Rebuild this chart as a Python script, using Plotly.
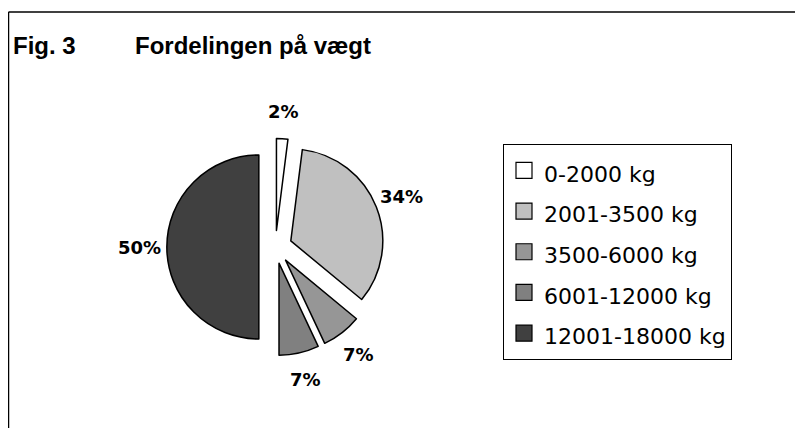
import math
import plotly.graph_objects as go

categories = ["0-2000 kg", "2001-3500 kg", "3500-6000 kg", "6001-12000 kg", "12001-18000 kg"]
shares = [2, 34, 7, 7, 50]
colors = ["#FFFFFF", "#C0C0C0", "#969696", "#808080", "#404040"]
fig_label = "Fig. 3"
title_text = "Fordelingen på vægt"

W, H = 803, 428
OFF = 8  # default body margin of the html page
TITLE_FONT = "Liberation Sans, Arial, sans-serif"
TEXT_FONT = "DejaVu Sans, Verdana, sans-serif"


def px(xp):
    return (xp - OFF) / W


def py(yp):
    return 1 - (yp - OFF) / H


# pie geometry (page pixels)
CX, CY, R, PULL = 275.4, 247.0, 92.0, 0.18
half = R * (1 + PULL)
LABEL_R = 136.0

fig = go.Figure()
fig.add_trace(go.Pie(
    labels=categories,
    values=shares,
    sort=False,
    direction="clockwise",
    rotation=0,
    pull=[PULL] * len(shares),
    marker=dict(colors=colors, line=dict(color="#000000", width=1.5)),
    textinfo="none",
    hoverinfo="label+percent",
    showlegend=False,
    domain=dict(x=[px(CX - half), px(CX + half)], y=[py(CY + half), py(CY - half)]),
))

# legend entries
for cat, col in zip(categories, colors):
    fig.add_trace(go.Scatter(
        x=[None], y=[None], mode="markers", name='<span style="font-size:22px">%s</span>' % cat,
        marker=dict(symbol="square", size=16, color=col, line=dict(color="#000000", width=1.2)),
        showlegend=True,
    ))

# percentage labels placed along each slice's mid-angle
annotations = []
total = float(sum(shares))
cum = 0.0
for v in shares:
    mid = (cum + v / 2.0) / total * 2 * math.pi
    cum += v
    lx = CX + LABEL_R * math.sin(mid)
    ly = CY - LABEL_R * math.cos(mid)
    annotations.append(dict(
        text="<b>%d%%</b>" % round(v / total * 100), x=px(lx), y=py(ly),
        xref="paper", yref="paper", xanchor="center", yanchor="middle", showarrow=False,
        font=dict(family=TEXT_FONT, size=18, color="#000000")))

annotations += [
    dict(text="<b>%s</b>" % fig_label, x=px(11), y=py(45), xref="paper", yref="paper",
         xanchor="left", yanchor="middle", showarrow=False,
         font=dict(family=TITLE_FONT, size=24, color="#000000")),
    dict(text="<b>%s</b>" % title_text, x=px(133), y=py(45), xref="paper", yref="paper",
         xanchor="left", yanchor="middle", showarrow=False,
         font=dict(family=TITLE_FONT, size=24, color="#000000")),
]

fig.update_layout(
    width=W, height=H,
    margin=dict(l=0, r=0, t=0, b=0),
    paper_bgcolor="#FFFFFF",
    plot_bgcolor="#FFFFFF",
    font=dict(family=TEXT_FONT, color="#000000"),
    xaxis=dict(visible=False),
    yaxis=dict(visible=False),
    showlegend=True,
    legend=dict(
        x=px(503), y=py(144), xanchor="left", yanchor="top",
        bordercolor="#000000", borderwidth=1,
        font=dict(family=TEXT_FONT, size=29, color="#000000"),
        bgcolor="#FFFFFF",
    ),
    annotations=annotations,
    shapes=[
        dict(type="line", xref="paper", yref="paper", x0=px(8.5), x1=1.0, y0=py(12), y1=py(12),
             line=dict(color="#000000", width=1.5)),
        dict(type="line", xref="paper", yref="paper", x0=px(8.5), x1=px(8.5), y0=0, y1=py(12),
             line=dict(color="#000000", width=1.5)),
    ],
)

fig.write_html("out.html")
